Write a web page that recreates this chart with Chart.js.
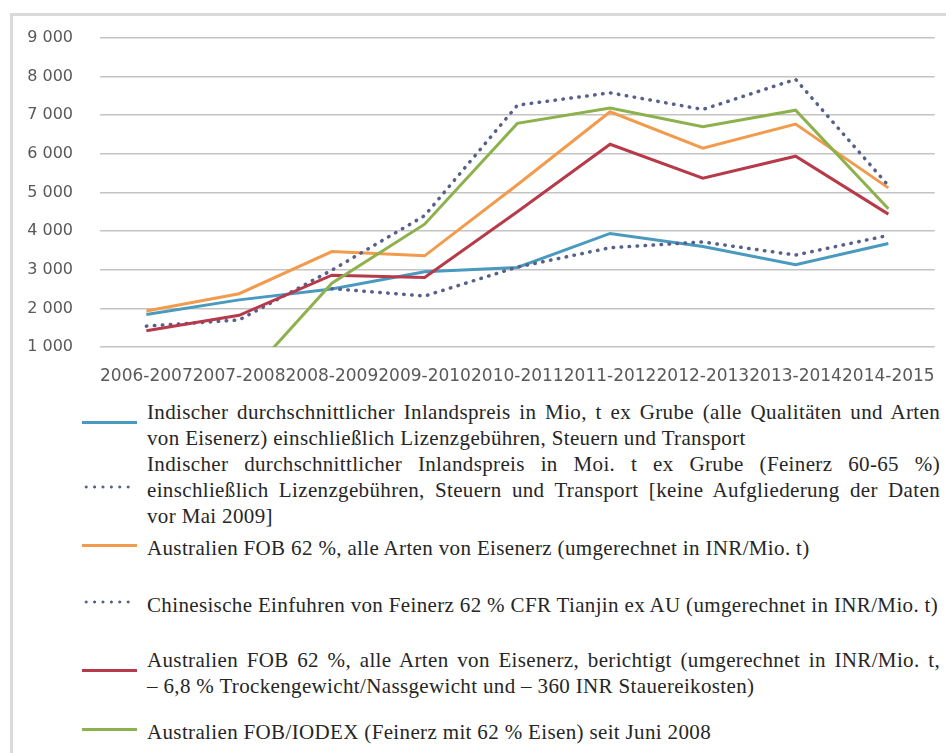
<!DOCTYPE html>
<html>
<head>
<meta charset="utf-8">
<script src="https://cdn.jsdelivr.net/npm/chart.js@4.4.0/dist/chart.umd.min.js"></script>
<style>
  body { margin: 0; background: #fff; width: 946px; height: 753px; overflow: hidden; position: relative; }
  #frame { position: absolute; left: 10px; top: 13px; width: 940px; height: 745px;
           border-top: 3px solid #dadada; border-left: 3px solid #dadada; box-sizing: border-box; }
  #chartBox { position: absolute; left: 0; top: 0; }
  .item { position: absolute; left: 82px; width: 858px; display: flex; align-items: center; }
  .swatch { width: 55px; height: 3px; margin-right: 10px; flex: none; position: relative; top: -3px; }
  .swatch.dots { width: 50px; margin-right: 15px; height: 4px; background-size: 8.4px 4px;
                 background-repeat: repeat-x; }
  .txt { width: 793px; font-family: "Liberation Serif", serif; font-size: 21px; line-height: 26px;
         letter-spacing: 0.35px; color: #262626; text-align: justify; }
</style>
</head>
<body>
<div id="frame"></div>
<div id="chartBox"><canvas id="chart" width="946" height="390"></canvas></div>
<div id="legend"></div>

<script>
// categories and series (INR per t)
let years = ["2006-2007", "2007-2008", "2008-2009", "2009-2010", "2010-2011",
             "2011-2012", "2012-2013", "2013-2014", "2014-2015"];

let indiaAll    = [1840, 2220, 2500, 2950, 3060, 3940, 3600, 3130, 3680];
let indiaFines  = [null, null, 2510, 2320, 3070, 3570, 3720, 3380, 3890];
let ausFob      = [1930, 2380, 3470, 3360, 5200, 7090, 6150, 6770, 5120];
let chinaCfr    = [1540, 1700, 2990, 4400, 7260, 7580, 7150, 7930, 5180];
let ausFobAdj   = [1420, 1820, 2860, 2800, 4500, 6250, 5370, 5940, 4440];
let ausIodex    = [null, 0, 2650, 4180, 6790, 7190, 6700, 7130, 4580];

let yTicks = [1000, 2000, 3000, 4000, 5000, 6000, 7000, 8000, 9000];

// \u00a0 / \u2060 keep the line breaks where the original has them
let seriesLabels = [
  "Indischer durchschnittlicher Inlandspreis in Mio, t ex Grube (alle Qualitäten und Arten von Eisenerz) einschließlich Lizenzgebühren, Steuern und Transport",
  "Indischer durchschnittlicher Inlandspreis in Moi. t ex Grube (Feinerz 60-65 %) einschließlich Lizenzgebühren, Steuern und Transport [keine Aufgliederung der Daten vor\u00a0Mai\u00a02009]",
  "Australien FOB 62 %, alle Arten von Eisenerz (umgerechnet in INR/Mio. t)",
  "Chinesische Einfuhren von Feinerz 62 % CFR Tianjin ex AU (umgerechnet in INR/Mio. t)",
  "Australien FOB 62 %, alle Arten von Eisenerz, berichtigt (umgerechnet in INR/Mio. t, –\u2060\u00a06,8 % Trockengewicht/Nassgewicht und – 360 INR Stauereikosten)",
  "Australien FOB/IODEX (Feinerz mit 62 % Eisen) seit Juni 2008"
];

let seriesData = [indiaAll, indiaFines, ausFob, chinaCfr, ausFobAdj, ausIodex];
let colors = ["#4a9ac0", "#56608a", "#f29b4d", "#56608a", "#b73a4b", "#8db14c"];
let dotted = [false, true, false, true, false, false];
let legendTops = [399, 451, 535, 592, 647, 719];

function fmt(v) {
  return String(v).replace(/\B(?=(\d{3})+(?!\d))/g, " ");
}

let datasets = seriesData.map(function (d, i) {
  return {
    label: seriesLabels[i],
    data: d,
    borderColor: colors[i],
    backgroundColor: colors[i],
    borderWidth: dotted[i] ? 3.5 : 3,
    borderDash: dotted[i] ? [0.5, 7.5] : [],
    borderCapStyle: dotted[i] ? "round" : "butt",
    pointRadius: 0,
    tension: 0,
    fill: false,
    order: seriesData.length - i
  };
});

let ctx = document.getElementById("chart").getContext("2d");
let chart = new Chart(ctx, {
  type: "line",
  data: { labels: years, datasets: datasets },
  options: {
    responsive: false,
    animation: false,
    layout: { padding: { top: 38, right: 6, left: 0, bottom: 0 } },
    plugins: { legend: { display: false }, tooltip: { enabled: false } },
    scales: {
      x: {
        offset: true,
        grid: { display: false },
        border: { display: false },
        ticks: {
          color: "#595959",
          font: { family: "DejaVu Sans", size: 17 },
          padding: 11,
          maxRotation: 0,
          autoSkip: false
        },
        afterFit: function (scale) { scale.height = 43; }
      },
      y: {
        min: yTicks[0],
        max: yTicks[yTicks.length - 1],
        afterBuildTicks: function (scale) {
          scale.ticks = yTicks.map(function (v) { return { value: v }; });
        },
        grid: { color: "#c4c4c4", lineWidth: 1.6, drawTicks: false },
        border: { display: false },
        ticks: {
          color: "#595959",
          font: { family: "DejaVu Sans", size: 16 },
          padding: 27,
          callback: function (v) { return fmt(v); }
        },
        afterFit: function (scale) { scale.width = 100; }
      }
    }
  }
});

// legend drawn as html below the chart
let legend = document.getElementById("legend");
seriesLabels.forEach(function (text, i) {
  let item = document.createElement("div");
  item.className = "item";
  item.style.top = legendTops[i] + "px";
  let sw = document.createElement("div");
  if (dotted[i]) {
    sw.className = "swatch dots";
    sw.style.backgroundImage = "radial-gradient(circle, " + colors[i] + " 1.3px, transparent 1.8px)";
  } else {
    sw.className = "swatch";
    sw.style.background = colors[i];
  }
  let t = document.createElement("div");
  t.className = "txt";
  t.textContent = text;
  item.appendChild(sw);
  item.appendChild(t);
  legend.appendChild(item);
});
</script>
</body>
</html>
